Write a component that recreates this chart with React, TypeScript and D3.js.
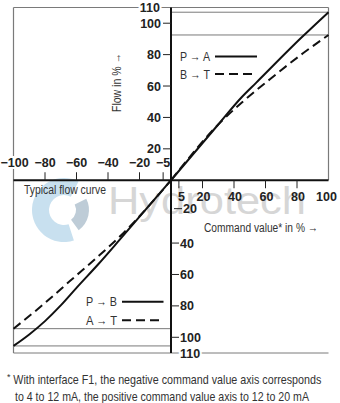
import React from "react";
import * as d3 from "d3";

// ---- data ----
const paX = [0, 30, 45, 54, 83, 100];
const paY = [0, 35.5, 53, 62, 91, 107];
const btX = [0, 32, 45, 63, 84, 100];
const btY = [0, 37.5, 49.5, 64.5, 81, 92.5];
const pbX = [-100, -90, -80, -70, -60, -46.2, -32.4, 0];
const pbY = [-105.5, -98.2, -89.7, -79.7, -68.5, -53.5, -37.7, 0];
const atX = [-100, -81, -64, -47, -30, 0];
const atY = [-94.5, -79, -64, -49.2, -33.4, 0];

const xTicksNeg = [-80, -60, -40, -20, -5];
const xTicksPos = [5, 20, 40, 60, 80];
const yTicks = [20, 40, 60, 80, 100];
const yEdge = 110;
const xEdge = 100;

const legendUpper = ["P → A", "B → T"];
const legendLower = ["P → B", "A → T"];
const xTitle = "Command value* in % →";
const yTitle = "Flow in % →";
const curveTitle = "Typical flow curve";
const footnote = [
  "With interface F1, the negative command value axis corresponds",
  "to 4 to 12 mA, the positive command value axis to 12 to 20 mA",
];

const W = 340;
const H = 403;
const bold = "'Liberation Sans', Arial, sans-serif";
const narrow = "'Liberation Sans Narrow', 'Liberation Sans', Arial, sans-serif";

export default function App() {
  const x = d3.scaleLinear().domain([-100, 100]).range([13.5, 328.5]);
  const y = d3.scaleLinear().domain([-110, 110]).range([353, 7.5]);
  const x0 = x(0);
  const y0 = y(0);

  const line = d3
    .line<[number, number]>()
    .x((d) => x(d[0]))
    .y((d) => y(d[1]))
    .curve(d3.curveMonotoneX);
  const zip = (a: number[], b: number[]) => a.map((v, i) => [v, b[i]] as [number, number]);

  const gray = "#7a7a7a";
  const halo = { stroke: "#fff", strokeWidth: 4, paintOrder: "stroke" as const };

  const logoArc = d3.arc();
  const arcA = logoArc({ innerRadius: 15, outerRadius: 32, startAngle: 0.15 * Math.PI, endAngle: -1.1 * Math.PI }) || "";
  const arcB = logoArc({ innerRadius: 12, outerRadius: 25, startAngle: 0.35 * Math.PI, endAngle: 0.8 * Math.PI }) || "";

  const paEnd = paY[paY.length - 1];
  const btEnd = btY[btY.length - 1];
  const pbEnd = pbY[0];
  const atEnd = atY[0];

  return (
    <svg width={W} height={H} style={{ position: "absolute", left: 0, top: 0, background: "#fff" }}>
      {/* watermark */}
      <g opacity={0.55}>
        <path d={arcA} transform="translate(64,210)" fill="#9cc8e2" />
        <path d={arcB} transform="translate(64,210)" fill="#8aa4b8" />
        <text x={108} y={214} fontFamily={bold} fontSize={38} fill="#b5b5b5" textLength={198} lengthAdjust="spacingAndGlyphs">
          Hydrotech
        </text>
      </g>

      {/* frame lines */}
      <line x1={x(-100)} x2={x(100)} y1={y(110)} y2={y(110)} stroke={gray} strokeWidth={1} />
      <line x1={x(-100)} x2={x(100)} y1={y(-110)} y2={y(-110)} stroke={gray} strokeWidth={1} />
      <line x1={x(-100)} x2={x(-100)} y1={y(110)} y2={y(-110)} stroke={gray} strokeWidth={1.2} />
      <line x1={x(100)} x2={x(100)} y1={y(110)} y2={y0} stroke={gray} strokeWidth={1.2} />

      {/* end-value reference lines */}
      <line x1={x0} x2={x(100)} y1={y(paEnd)} y2={y(paEnd)} stroke={gray} strokeWidth={1} />
      <line x1={x0} x2={x(100)} y1={y(btEnd)} y2={y(btEnd)} stroke={gray} strokeWidth={1} />
      <line x1={x(-100)} x2={x0} y1={y(pbEnd)} y2={y(pbEnd)} stroke={gray} strokeWidth={1} />
      <line x1={x(-100)} x2={x0} y1={y(atEnd)} y2={y(atEnd)} stroke={gray} strokeWidth={1} />

      {/* axes */}
      <line x1={x(-100)} x2={x(100)} y1={y0} y2={y0} stroke="#111" strokeWidth={2} />
      <line x1={x0} x2={x0} y1={y(110)} y2={y(-110)} stroke="#111" strokeWidth={2} />

      {/* x ticks */}
      {xTicksNeg.map((t) => (
        <g key={"xn" + t}>
          <line x1={x(t)} x2={x(t)} y1={y0} y2={y0 - 8} stroke="#222" strokeWidth={1} />
          <text x={x(t)} y={y0 - 13} textAnchor="middle" fontFamily={bold} fontWeight="bold" fontSize={12.5} fill="#222">
            {"\u2212" + Math.abs(t)}
          </text>
        </g>
      ))}
      <text x={x(-xEdge) + 1} y={y0 - 13} textAnchor="middle" fontFamily={bold} fontWeight="bold" fontSize={12.5} fill="#222" {...halo}>
        {"\u2212" + xEdge}
      </text>
      {xTicksPos.map((t) => (
        <g key={"xp" + t}>
          <line x1={x(t)} x2={x(t)} y1={y0} y2={y0 + 8} stroke="#222" strokeWidth={1} />
          <text x={x(t) + (t === 5 ? 2.5 : 1)} y={y0 + 21} textAnchor="middle" fontFamily={bold} fontWeight="bold" fontSize={12.5} fill="#222">
            {t}
          </text>
        </g>
      ))}
      <text x={x(xEdge) - 2} y={y0 + 21} textAnchor="middle" fontFamily={bold} fontWeight="bold" fontSize={12.5} fill="#222">
        {xEdge}
      </text>

      {/* y ticks upper */}
      {yTicks.map((t) => (
        <g key={"yu" + t}>
          <line x1={x0 - 8} x2={x0} y1={y(t)} y2={y(t)} stroke="#222" strokeWidth={1} />
          <text x={x0 - 10} y={y(t) + 4.5} textAnchor="end" fontFamily={bold} fontWeight="bold" fontSize={12.5} fill="#222">
            {t}
          </text>
        </g>
      ))}
      <text x={x0 - 11} y={y(yEdge) + 4.5} textAnchor="end" fontFamily={bold} fontWeight="bold" fontSize={12.5} fill="#222" {...halo}>
        {yEdge}
      </text>
      {/* y ticks lower */}
      {yTicks.map((t) => {
        const yy = t === 20 ? y(-t) - 3 : y(-t);
        const x1 = t === 20 ? x0 + 3 : x0;
        return (
          <g key={"yl" + t}>
            <line x1={x1} x2={x1 + 8} y1={yy} y2={yy} stroke="#222" strokeWidth={1} />
            <text x={x1 + 9} y={yy + 4.5} textAnchor="start" fontFamily={bold} fontWeight="bold" fontSize={12.5} fill="#222">
              {t}
            </text>
          </g>
        );
      })}
      <text x={x0 + 9} y={y(-yEdge) + 4.5} textAnchor="start" fontFamily={bold} fontWeight="bold" fontSize={12.5} fill="#222" {...halo}>
        {yEdge}
      </text>

      {/* curves */}
      <path d={line(zip(paX, paY)) || ""} fill="none" stroke="#111" strokeWidth={2} />
      <path d={line(zip(btX, btY)) || ""} fill="none" stroke="#111" strokeWidth={2} strokeDasharray="9 5" />
      <path d={line(zip(pbX, pbY)) || ""} fill="none" stroke="#111" strokeWidth={2} />
      <path d={line(zip(atX, atY)) || ""} fill="none" stroke="#111" strokeWidth={2} strokeDasharray="9 5" />

      {/* legends */}
      {legendUpper.map((l, i) => (
        <g key={l}>
          <text x={180} y={61 + i * 17.5} fontFamily={narrow} fontSize={12.5} fill="#333" textLength={30} lengthAdjust="spacingAndGlyphs">
            {l}
          </text>
          <line x1={215} x2={257} y1={56.5 + i * 17.5} y2={56.5 + i * 17.5} stroke="#111" strokeWidth={2} strokeDasharray={i === 1 ? "9 5" : undefined} />
        </g>
      ))}
      {legendLower.map((l, i) => (
        <g key={l}>
          <text x={86} y={306 + i * 18.5} fontFamily={narrow} fontSize={12.5} fill="#333" textLength={31} lengthAdjust="spacingAndGlyphs">
            {l}
          </text>
          <line x1={122} x2={163.5} y1={301.7 + i * 18.5} y2={301.7 + i * 18.5} stroke="#111" strokeWidth={2} strokeDasharray={i === 1 ? "9 5" : undefined} />
        </g>
      ))}

      {/* titles */}
      <text x={204} y={231.5} fontFamily={narrow} fontSize={12.5} fill="#333" textLength={114} lengthAdjust="spacingAndGlyphs">
        {xTitle}
      </text>
      <text transform="translate(121,112) rotate(-90)" x={0} y={0} fontFamily={narrow} fontSize={12.5} fill="#333" textLength={59} lengthAdjust="spacingAndGlyphs">
        {yTitle}
      </text>
      <text x={24} y={194} fontFamily={narrow} fontSize={12.5} fill="#333" textLength={82} lengthAdjust="spacingAndGlyphs">
        {curveTitle}
      </text>

      {/* footnote */}
      <text x={7} y={380} fontFamily={narrow} fontSize={9} fill="#333">*</text>
      <text x={13.3} y={383.5} fontFamily={narrow} fontSize={13} fill="#333" textLength={308} lengthAdjust="spacingAndGlyphs">
        {footnote[0]}
      </text>
      <text x={15} y={400.5} fontFamily={narrow} fontSize={13} fill="#333" textLength={294} lengthAdjust="spacingAndGlyphs">
        {footnote[1]}
      </text>
    </svg>
  );
}
